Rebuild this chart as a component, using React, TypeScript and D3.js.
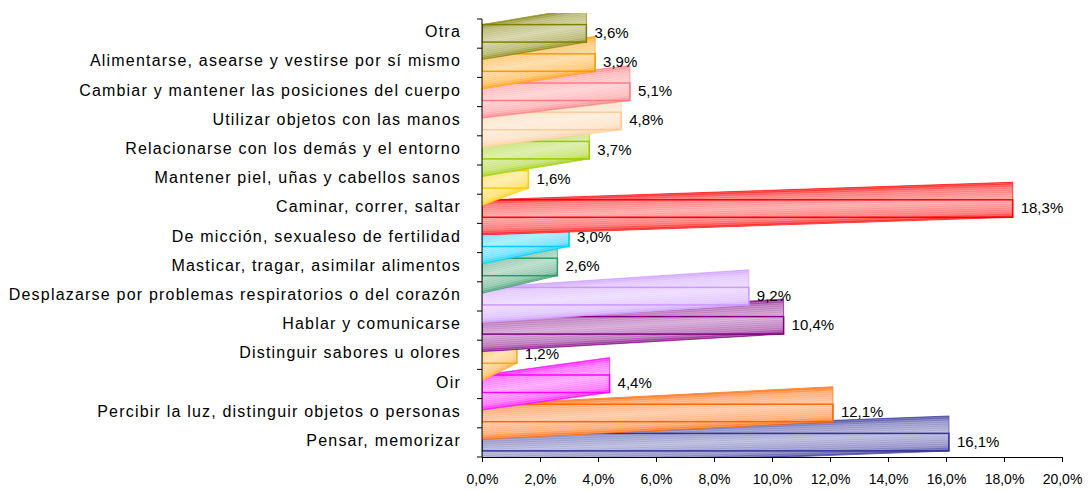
import React, { useEffect, useRef } from "react";
import * as d3 from "d3";

// Categories top to bottom, as in the original chart
const categories = [
  "Otra",
  "Alimentarse, asearse y vestirse por sí mismo",
  "Cambiar y mantener las posiciones del cuerpo",
  "Utilizar objetos con las manos",
  "Relacionarse con los demás y el entorno",
  "Mantener piel, uñas y cabellos sanos",
  "Caminar, correr, saltar",
  "De micción, sexualeso de fertilidad",
  "Masticar, tragar, asimilar alimentos",
  "Desplazarse por problemas respiratorios o del corazón",
  "Hablar y comunicarse",
  "Distinguir sabores u olores",
  "Oir",
  "Percibir la luz, distinguir objetos o personas",
  "Pensar, memorizar",
];

const values = [3.6, 3.9, 5.1, 4.8, 3.7, 1.6, 18.3, 3.0, 2.6, 9.2, 10.4, 1.2, 4.4, 12.1, 16.1];

const colors = [
  "#808000", "#ff9900", "#ff7c80", "#ffcc99", "#99cc00",
  "#ffcc00", "#ff0000", "#00ccff", "#339966", "#cc99ff",
  "#800080", "#ffa31a", "#ff00ff", "#ff6600", "#333399",
];

const xTicks = [0, 2, 4, 6, 8, 10, 12, 14, 16, 18, 20];

const W = 1088;
const H = 491;
const FONT = "'Liberation Sans', Arial, sans-serif";

const App = () => {
  const svgRef = useRef<SVGSVGElement | null>(null);

  useEffect(() => {
    document.body.style.margin = "0";
    const svg = d3.select(svgRef.current);
    svg.selectAll("*").remove();

    const x = d3.scaleLinear().domain([0, 20]).range([482, 1062]);
    const y = d3.scaleBand<string>().domain(categories).range([19, 457]);
    const bw = y.bandwidth();
    const skew = 17.5;   // depth of the slanted face
    const barH = 17.5;

    const defs = svg.append("defs");

    defs.append("clipPath").attr("id", "plot-clip")
      .append("rect")
      .attr("x", x(0)).attr("y", 13)
      .attr("width", x(20) - x(0) + 20).attr("height", 457 - 13);

    // fine horizontal stripes
    const pat = defs.append("pattern")
      .attr("id", "stripes")
      .attr("patternUnits", "userSpaceOnUse")
      .attr("width", 8).attr("height", 2);
    pat.append("rect").attr("width", 8).attr("height", 1)
      .attr("fill", "#fff").attr("opacity", 0.22);

    colors.forEach((c, i) => {
      const light = d3.interpolateRgb(c, "#ffffff");
      const gr = defs.append("linearGradient")
        .attr("id", `grad-${i}`)
        .attr("x1", 0).attr("y1", 0).attr("x2", 0).attr("y2", 1);
      [[0, light(0.1)], [0.15, light(0.45)], [0.5, light(0.65)], [0.85, light(0.45)], [1, light(0.1)]]
        .forEach(([o, col]) => gr.append("stop").attr("offset", o as number).attr("stop-color", col as string));
    });

    // ── Bars (bottom first so the upper ones overlap) ──────────────────
    const plot = svg.append("g").attr("clip-path", "url(#plot-clip)");

    d3.range(categories.length).reverse().forEach((i) => {
      const cat = categories[i];
      const v = values[i];
      const x0 = x(0);
      const len = x(v) - x0;
      const cy = (y(cat) as number) + bw / 2;
      const top = cy - 9;
      const k = skew / len;

      // slanted body: y shifts up by `skew` over the bar's length
      const slant = plot.append("g")
        .attr("transform", `matrix(1, ${-k}, 0, 1, 0, ${k * x0})`);
      slant.append("rect")
        .attr("x", x0).attr("y", top)
        .attr("width", len).attr("height", barH + skew)
        .attr("fill", `url(#grad-${i})`)
        .attr("stroke", colors[i]).attr("stroke-width", 1).attr("stroke-opacity", 0.7);
      slant.append("rect")
        .attr("x", x0).attr("y", top)
        .attr("width", len).attr("height", barH + skew)
        .attr("fill", "url(#stripes)");

      plot.append("rect")
        .attr("x", x0).attr("y", top)
        .attr("width", len).attr("height", barH)
        .attr("fill", "none")
        .attr("stroke", colors[i]).attr("stroke-width", 1.5);
    });

    // ── Value labels ───────────────────────────────────────────────────
    categories.forEach((cat, i) => {
      const cy = (y(cat) as number) + bw / 2;
      svg.append("text")
        .attr("x", x(values[i]) + 8)
        .attr("y", cy - 1)
        .attr("dy", "0.35em")
        .attr("font-family", FONT).attr("font-size", "15px")
        .attr("fill", "#000")
        .text(values[i].toFixed(1).replace(".", ",") + "%");
    });

    // ── Y axis ─────────────────────────────────────────────────────────
    const axisColor = "#000";
    svg.append("line")
      .attr("x1", x(0)).attr("x2", x(0))
      .attr("y1", 19).attr("y2", 457)
      .attr("stroke", axisColor).attr("stroke-width", 1);
    [...categories.map((c) => y(c) as number), 457].forEach((ty) => {
      svg.append("line")
        .attr("x1", x(0) - 5).attr("x2", x(0))
        .attr("y1", ty).attr("y2", ty)
        .attr("stroke", axisColor);
    });
    categories.forEach((cat) => {
      svg.append("text")
        .attr("x", 461)
        .attr("y", (y(cat) as number) + bw / 2 - 2)
        .attr("dy", "0.35em")
        .attr("text-anchor", "end")
        .attr("font-family", FONT).attr("font-size", "16px")
        .attr("letter-spacing", "1.2px")
        .attr("fill", "#000")
        .text(cat);
    });

    // ── X axis ─────────────────────────────────────────────────────────
    const xa = svg.append("g").attr("transform", "translate(0,457)")
      .call(d3.axisBottom(x).tickValues(xTicks).tickSize(5).tickSizeOuter(0)
        .tickFormat((d) => (d as number).toFixed(1).replace(".", ",") + "%"));
    xa.select(".domain").attr("stroke", axisColor);
    xa.selectAll(".tick line").attr("stroke", axisColor);
    xa.selectAll(".tick text")
      .attr("y", 17)
      .attr("font-family", FONT).attr("font-size", "14px")
      .attr("fill", "#000");
  }, []);

  return <svg ref={svgRef} width={W} height={H} style={{ display: "block", background: "#fff" }} />;
};

export default App;
